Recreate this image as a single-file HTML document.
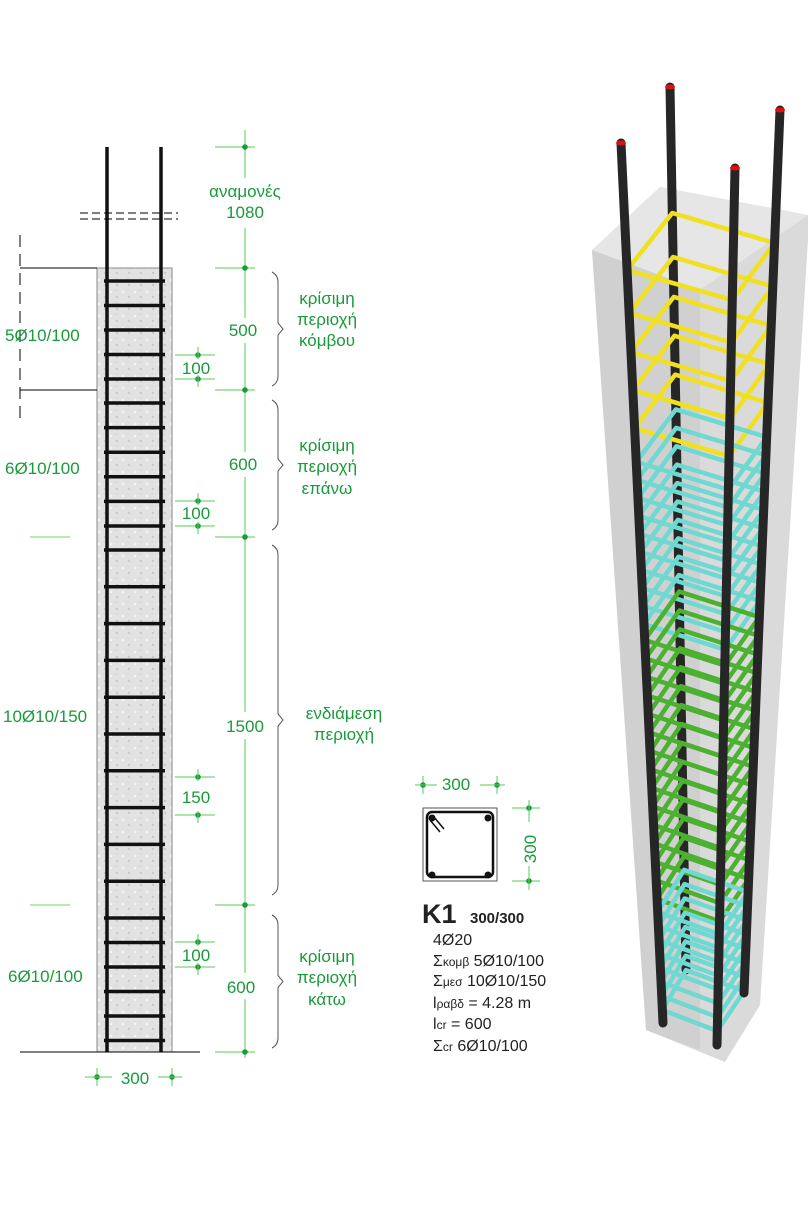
<!DOCTYPE html>
<html><head><meta charset="utf-8"><style>
body{margin:0;background:#fff;width:808px;height:1200px;overflow:hidden}
text{font-family:"Liberation Sans",sans-serif}
</style></head><body>
<svg id="s" width="808" height="1200" xmlns="http://www.w3.org/2000/svg">
<defs>
<pattern id="c" width="12" height="12" patternUnits="userSpaceOnUse">
<rect width="12" height="12" fill="#e2e2e2"/><circle cx="3" cy="4" r="1.3" fill="#f4f4f4"/><circle cx="9" cy="9" r="1.2" fill="#c9c9c9"/><circle cx="8" cy="2" r="0.8" fill="#d0d0d0"/>
</pattern>
</defs>
<rect x="97" y="268" width="75" height="784" fill="url(#c)" stroke="#888" stroke-width="1"/>
<g id="left"></g>
<g id="right"></g>
<line x1="20" y1="1052" x2="200" y2="1052" stroke="#000" stroke-width="1"/>
<line x1="20" y1="235" x2="20" y2="420" stroke="#000" stroke-dasharray="12,7"/>
<line x1="20" y1="268" x2="97" y2="268" stroke="#000"/>
<line x1="20" y1="390" x2="97" y2="390" stroke="#000"/>
<line x1="30" y1="537" x2="70" y2="537" stroke="#3c3" stroke-width="0.8"/>
<line x1="30" y1="905" x2="70" y2="905" stroke="#3c3" stroke-width="0.8"/>
<line x1="80" y1="213" x2="178" y2="213" stroke="#000" stroke-dasharray="8,4"/>
<line x1="80" y1="219" x2="178" y2="219" stroke="#000" stroke-dasharray="8,4"/>
<g fill="#1a9a3a" font-size="17">
<text x="5" y="341">5Ø10/100</text>
<text x="5" y="474">6Ø10/100</text>
<text x="3" y="722">10Ø10/150</text>
<text x="8" y="982">6Ø10/100</text>
<text x="245" y="197" text-anchor="middle">αναμονές</text>
<text x="245" y="218" text-anchor="middle">1080</text>
<text x="243" y="336" text-anchor="middle">500</text>
<text x="243" y="470" text-anchor="middle">600</text>
<text x="245" y="732" text-anchor="middle">1500</text>
<text x="241" y="993" text-anchor="middle">600</text>
<text x="196" y="374" text-anchor="middle">100</text>
<text x="196" y="519" text-anchor="middle">100</text>
<text x="196" y="803" text-anchor="middle">150</text>
<text x="196" y="961" text-anchor="middle">100</text>
<text x="327" y="304" text-anchor="middle">κρίσιμη</text>
<text x="327" y="325" text-anchor="middle">περιοχή</text>
<text x="327" y="346" text-anchor="middle">κόμβου</text>
<text x="327" y="451" text-anchor="middle">κρίσιμη</text>
<text x="327" y="472" text-anchor="middle">περιοχή</text>
<text x="327" y="494" text-anchor="middle">επάνω</text>
<text x="344" y="719" text-anchor="middle">ενδιάμεση</text>
<text x="344" y="740" text-anchor="middle">περιοχή</text>
<text x="327" y="962" text-anchor="middle">κρίσιμη</text>
<text x="327" y="983" text-anchor="middle">περιοχή</text>
<text x="327" y="1005" text-anchor="middle">κάτω</text>
<text x="135" y="1084" text-anchor="middle">300</text>
<text x="456" y="790" text-anchor="middle">300</text>
<text transform="translate(536,849) rotate(-90)" text-anchor="middle">300</text>
</g>
<g id="dims" stroke="#5c5" stroke-width="1" fill="#1a9a3a"></g>
<rect x="423" y="808" width="74" height="73" fill="#fff" stroke="#555"/>
<rect x="427" y="812" width="66" height="65" rx="5" fill="none" stroke="#111" stroke-width="2.5"/>
<g fill="#111"><circle cx="432" cy="818" r="3.5"/><circle cx="488" cy="818" r="3.5"/><circle cx="432" cy="875" r="3.5"/><circle cx="488" cy="875" r="3.5"/></g>
<line x1="430" y1="820" x2="440" y2="832" stroke="#111" stroke-width="1.5"/>
<line x1="434" y1="817" x2="444" y2="829" stroke="#111" stroke-width="1.5"/>
<g fill="#222">
<text x="422" y="923" font-size="27" font-weight="bold">K1</text>
<text x="470" y="923" font-size="15" font-weight="bold">300/300</text>
<g font-size="16">
<text x="433" y="945">4Ø20</text>
<text x="433" y="966">Σ<tspan font-size="12">κομβ</tspan> 5Ø10/100</text>
<text x="433" y="986">Σ<tspan font-size="12">μεσ</tspan> 10Ø10/150</text>
<text x="433" y="1008">l<tspan font-size="12">ραβδ</tspan> = 4.28 m</text>
<text x="433" y="1029">l<tspan font-size="12">cr</tspan> = 600</text>
<text x="433" y="1051">Σ<tspan font-size="12">cr</tspan> 6Ø10/100</text>
</g></g>
</svg>
<script>
var NS="http://www.w3.org/2000/svg";
function el(p,t,a){var e=document.createElementNS(NS,t);for(var k in a)e.setAttribute(k,a[k]);document.getElementById(p).appendChild(e);return e;}
var ys=[];
for(var y=281;y<390;y+=24.5)ys.push(y);
for(var y=403;y<537;y+=24.6)ys.push(y);
for(var y=550;y<905;y+=36.8)ys.push(y);
for(var y=918;y<1052;y+=24.5)ys.push(y);
ys.forEach(function(y){el("left","line",{x1:104,y1:y,x2:165,y2:y,stroke:"#111","stroke-width":3.5});});
el("left","line",{x1:107,y1:147,x2:107,y2:1052,stroke:"#111","stroke-width":3.5});
el("left","line",{x1:161,y1:147,x2:161,y2:1052,stroke:"#111","stroke-width":3.5});
function brace(y1,y2){var m=(y1+y2)/2,x=272;el("left","path",{d:"M"+x+" "+y1+" q6 3 6 10 V"+(m-6)+" l5 6 l-5 6 V"+(y2-10)+" q0 7 -6 10",fill:"none",stroke:"#555","stroke-width":1});}
brace(272,386);brace(400,530);brace(545,895);brace(915,1048);
function seg(a,b){el("dims","line",{x1:245,y1:a,x2:245,y2:b});}
seg(130,178);seg(228,318);seg(343,452);seg(477,712);seg(739,973);seg(999,1058);
[147,268,390,537,905,1052].forEach(function(y){el("dims","line",{x1:215,y1:y,x2:255,y2:y});el("dims","circle",{cx:245,cy:y,r:2.8,stroke:"none"});});
[[355,379],[501,526],[777,815],[942,967]].forEach(function(p){p.forEach(function(y){el("dims","line",{x1:175,y1:y,x2:215,y2:y});el("dims","circle",{cx:198,cy:y,r:2.8,stroke:"none"});});el("dims","line",{x1:198,y1:p[0]-8,x2:198,y2:p[0]+4});el("dims","line",{x1:198,y1:p[1]-4,x2:198,y2:p[1]+8});});
[97,172].forEach(function(x){el("dims","line",{x1:x,y1:1068,x2:x,y2:1086});el("dims","circle",{cx:x,cy:1077,r:2.8,stroke:"none"});});
el("dims","line",{x1:85,y1:1077,x2:112,y2:1077});el("dims","line",{x1:158,y1:1077,x2:182,y2:1077});
[423,497].forEach(function(x){el("dims","line",{x1:x,y1:776,x2:x,y2:794});el("dims","circle",{cx:x,cy:785,r:2.8,stroke:"none"});});
el("dims","line",{x1:415,y1:785,x2:437,y2:785});el("dims","line",{x1:480,y1:785,x2:505,y2:785});
[808,881].forEach(function(y){el("dims","line",{x1:512,y1:y,x2:540,y2:y});el("dims","circle",{cx:529,cy:y,r:2.8,stroke:"none"});});
el("dims","line",{x1:529,y1:800,x2:529,y2:822});el("dims","line",{x1:529,y1:866,x2:529,y2:890});
el("right","polygon",{points:"592,250 660,187 808,215 808,240 760,1005 725,1062 646,1030",fill:"#dadada"});
el("right","polygon",{points:"592,250 700,290 700,1050 646,1030",fill:"#d0d0d0"});
el("right","polygon",{points:"592,250 660,187 808,215 700,290",fill:"#e6e6e6"});
var bars={L:[621,143,663,1023],B:[670,87,686,970],F:[735,168,717,1045],R:[780,110,744,993]};
function bx(b,y){var k=(y-b[1])/(b[3]-b[1]);return b[0]+(b[2]-b[0])*k;}
function drawBar(b){el("right","line",{x1:b[0],y1:b[1],x2:b[2],y2:b[3],stroke:"#262626","stroke-width":9,"stroke-linecap":"round"});el("right","ellipse",{cx:b[0],cy:b[1],rx:5,ry:2.5,fill:"#e01010"});}
drawBar(bars.B);
var st=[];
[270,313,352,390,428].forEach(function(y){st.push([y,"#f0e020"]);});
for(var y=462;y<=625;y+=18)st.push([y,"#6fd8d0"]);
for(var y=640;y<=900;y+=18.5)st.push([y,"#4cb030"]);
for(var y=912;y<=1012;y+=14)st.push([y,"#6fd8d0"]);
st.forEach(function(s){var y=s[0],k=(y-270)/740,sc=1-0.3*k;
 var yb=y-57*sc,yr=y-27*sc,yf=y+30*sc;
 var l=[bx(bars.L,y),y],b=[bx(bars.B,yb),yb],r=[bx(bars.R,yr),yr],f=[bx(bars.F,yf),yf];
 el("right","polygon",{points:[l,b,r,f].map(function(p){return p.join(",")}).join(" "),fill:"none",stroke:s[1],"stroke-width":4.5,"stroke-linejoin":"round"});
});
drawBar(bars.L);drawBar(bars.R);drawBar(bars.F);
</script>
</body></html>
